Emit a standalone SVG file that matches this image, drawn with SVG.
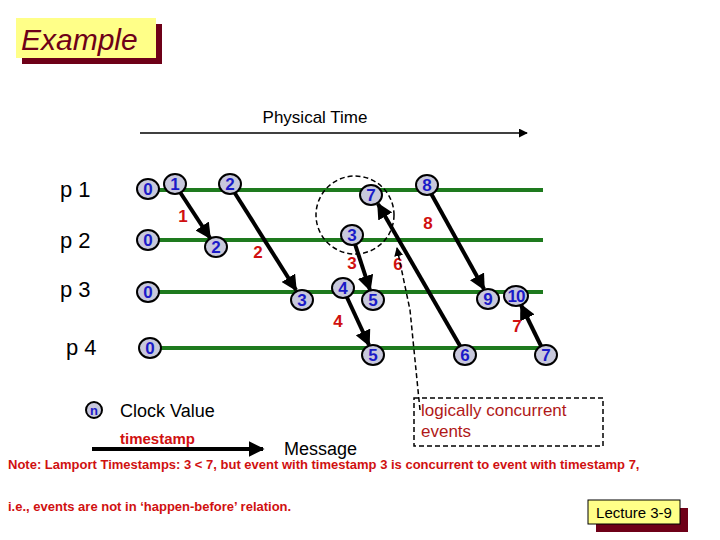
<svg xmlns="http://www.w3.org/2000/svg" width="720" height="540" viewBox="0 0 720 540">
<defs>
<marker id="ah" viewBox="0 0 10 10" refX="9" refY="5" markerWidth="4" markerHeight="4" orient="auto"><path d="M0,0L10,5L0,10z" fill="#000"/></marker>
<marker id="ahs" viewBox="0 0 10 10" refX="9" refY="5" markerWidth="6" markerHeight="6" orient="auto"><path d="M0,0L10,5L0,10z" fill="#000"/></marker>
<style>
.t{font-family:"Liberation Sans",Arial,sans-serif}
.pl{font-size:22px;fill:#000}
.lane{stroke:#1e7a1e;stroke-width:4}
.nd ellipse{fill:#c8c8dc;stroke:#000;stroke-width:2}
.nd text{font-family:"Liberation Sans",Arial,sans-serif;font-weight:bold;font-size:17px;fill:#1a1ac8;text-anchor:middle}
.msg{stroke:#000;stroke-width:4;marker-end:url(#ah)}
.ml{font-family:"Liberation Sans",Arial,sans-serif;font-weight:bold;font-size:17px;fill:#d01010;text-anchor:middle}
.dash{stroke:#000;stroke-width:1.5;stroke-dasharray:5,3;fill:none}
</style>
</defs>
<rect width="720" height="540" fill="#fff"/>
<g id="title"><rect x="22" y="24" width="140" height="40" fill="#6e0018"/><rect x="16" y="18" width="140" height="40" fill="#ffff88"/><text x="21" y="50" class="t" font-size="30" font-style="italic" fill="#6e0018">Example</text></g>
<g id="physical-time"><text x="315" y="123" class="t" font-size="17" text-anchor="middle">Physical Time</text><line x1="140" y1="133" x2="527" y2="133" stroke="#000" stroke-width="1.5" marker-end="url(#ahs)"/></g>
<g id="lanes">
<text x="60" y="197" class="t pl">p 1</text><text x="60" y="248" class="t pl">p 2</text><text x="60" y="297" class="t pl">p 3</text><text x="66" y="355" class="t pl">p 4</text>
<line class="lane" x1="155" y1="190" x2="543" y2="190"/><line class="lane" x1="155" y1="240" x2="543" y2="240"/><line class="lane" x1="155" y1="292" x2="543" y2="292"/><line class="lane" x1="158" y1="348" x2="543" y2="348"/>
</g>
<g id="connectors">
<line class="msg" x1="176" y1="186" x2="210" y2="238"/>
<line class="msg" x1="231" y1="187" x2="296" y2="290"/>
<line class="msg" x1="353" y1="238" x2="370" y2="290"/>
<line class="msg" x1="344" y1="291" x2="369" y2="345"/>
<line class="msg" x1="463" y1="351" x2="378" y2="204"/>
<line class="msg" x1="428" y1="188" x2="484" y2="289"/>
<line class="msg" x1="543" y1="350" x2="521" y2="305"/>
<text class="ml" x="183" y="222">1</text><text class="ml" x="258" y="258">2</text><text class="ml" x="352" y="269">3</text><text class="ml" x="338" y="327">4</text><text class="ml" x="398" y="270">6</text><text class="ml" x="428" y="229">8</text><text class="ml" x="517" y="332">7</text>
<circle class="dash" cx="355" cy="215" r="39"/>
<path class="dash" d="M420,410 L410,310 L397,248" marker-end="url(#ahs)"/>
</g>
<g id="nodes">
<g class="nd"><ellipse cx="148" cy="189" rx="11" ry="10"/><text x="148" y="195">0</text></g>
<g class="nd"><ellipse cx="175" cy="184" rx="11" ry="10"/><text x="175" y="190">1</text></g>
<g class="nd"><ellipse cx="230" cy="184" rx="11" ry="10"/><text x="230" y="190">2</text></g>
<g class="nd"><ellipse cx="371" cy="195" rx="11" ry="10"/><text x="371" y="201">7</text></g>
<g class="nd"><ellipse cx="427" cy="185" rx="11" ry="10"/><text x="427" y="191">8</text></g>
<g class="nd"><ellipse cx="148" cy="240" rx="11" ry="10"/><text x="148" y="246">0</text></g>
<g class="nd"><ellipse cx="216" cy="247" rx="11" ry="10"/><text x="216" y="253">2</text></g>
<g class="nd"><ellipse cx="352" cy="235" rx="11" ry="10"/><text x="352" y="241">3</text></g>
<g class="nd"><ellipse cx="148" cy="292" rx="11" ry="10"/><text x="148" y="298">0</text></g>
<g class="nd"><ellipse cx="302" cy="300" rx="11" ry="10"/><text x="302" y="306">3</text></g>
<g class="nd"><ellipse cx="343" cy="288" rx="11" ry="10"/><text x="343" y="294">4</text></g>
<g class="nd"><ellipse cx="373" cy="300" rx="11" ry="10"/><text x="373" y="306">5</text></g>
<g class="nd"><ellipse cx="488" cy="299" rx="11" ry="10"/><text x="488" y="305">9</text></g>
<g class="nd"><ellipse cx="516" cy="296" rx="12" ry="10"/><text x="516" y="302" letter-spacing="-1">10</text></g>
<g class="nd"><ellipse cx="150" cy="348" rx="11" ry="10"/><text x="150" y="354">0</text></g>
<g class="nd"><ellipse cx="373" cy="355" rx="11" ry="10"/><text x="373" y="361">5</text></g>
<g class="nd"><ellipse cx="465" cy="355" rx="11" ry="10"/><text x="465" y="361">6</text></g>
<g class="nd"><ellipse cx="546" cy="355" rx="11" ry="10"/><text x="546" y="361">7</text></g>
</g>
<g id="legend">
<g class="nd"><ellipse cx="94" cy="410" rx="8" ry="8"/><text x="94" y="415" style="font-size:13px">n</text></g>
<text x="120" y="417" class="t" font-size="18">Clock Value</text>
<text x="120" y="444" class="t" font-size="15" font-weight="bold" fill="#d01010">timestamp</text>
<line class="msg" x1="92" y1="449" x2="263" y2="449"/>
<text x="284" y="455" class="t" font-size="18">Message</text>
<rect x="414" y="398" width="189" height="48" class="dash"/>
<text x="421" y="416" class="t" font-size="17" fill="#b01818">logically concurrent</text>
<text x="421" y="437" class="t" font-size="17" fill="#b01818">events</text>
</g>
<g id="note">
<text x="8" y="469" class="t" font-size="13" font-weight="bold" fill="#d01010">Note: Lamport Timestamps: 3 &lt; 7, but event with timestamp 3 is concurrent to event with timestamp 7,</text>
<text x="8" y="511" class="t" font-size="13" font-weight="bold" fill="#d01010">i.e., events are  not in ‘happen-before’ relation.</text>
<rect x="596" y="508" width="92" height="24" fill="#6e0018"/>
<rect x="588" y="500" width="92" height="24" fill="#ffff88" stroke="#000"/>
<text x="634" y="518" class="t" font-size="15" text-anchor="middle">Lecture 3-9</text>
</g>
</svg>
